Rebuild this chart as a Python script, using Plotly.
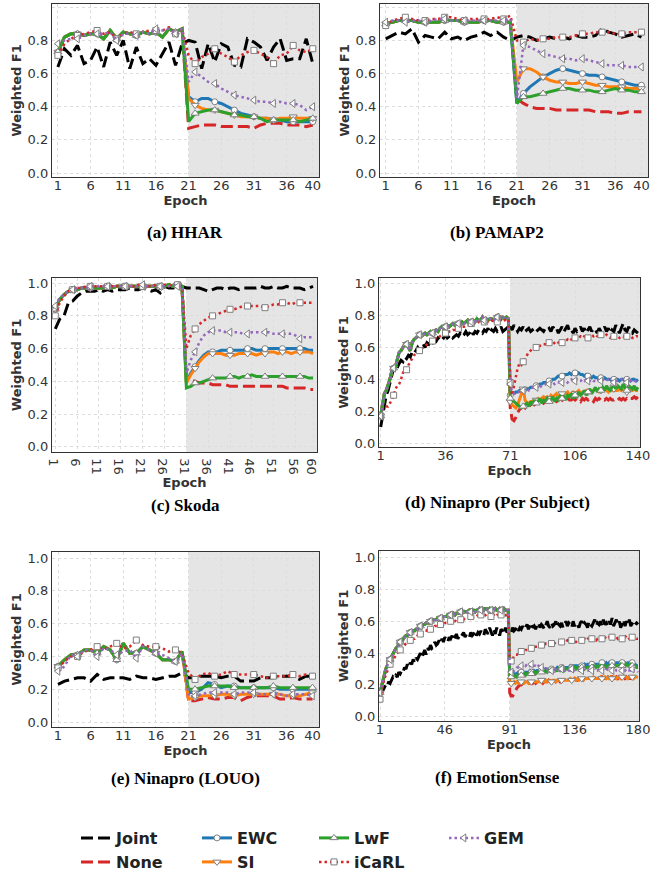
import plotly.graph_objects as go

# ------------------------------------------------------------------ data
METHODS = ["Joint", "None", "EWC", "SI", "LwF", "iCaRL", "GEM"]

# (a) HHAR -------------------------------------------------------------
a_ticks = [1, 6, 11, 16, 21, 26, 31, 36, 40]
a_task1 = [0.73, 0.82, 0.84, 0.84, 0.83, 0.84, 0.84, 0.81, 0.86, 0.81,
           0.85, 0.84, 0.83, 0.85, 0.84, 0.85, 0.82, 0.87, 0.85, 0.87]
a_joint = [0.64, 0.75, 0.71, 0.77, 0.66, 0.68, 0.76, 0.64, 0.79, 0.71,
           0.80, 0.63, 0.76, 0.66, 0.69, 0.65, 0.72, 0.79, 0.65, 0.78,
           0.80, 0.79, 0.63, 0.78, 0.67, 0.78, 0.76, 0.65, 0.64, 0.81,
           0.79, 0.76, 0.68, 0.76, 0.81, 0.68, 0.69, 0.69, 0.81, 0.66]
a_none2 = [0.27, 0.28, 0.29, 0.29, 0.29, 0.28, 0.28, 0.28, 0.28, 0.28,
           0.27, 0.29, 0.30, 0.30, 0.30, 0.29, 0.29, 0.29, 0.28, 0.29]
a_ewc2 = [0.46, 0.43, 0.45, 0.45, 0.43, 0.42, 0.40, 0.38, 0.36, 0.35,
          0.34, 0.33, 0.33, 0.32, 0.32, 0.31, 0.31, 0.31, 0.31, 0.31]
a_si2 = [0.45, 0.41, 0.39, 0.38, 0.38, 0.37, 0.36, 0.35, 0.34, 0.34,
         0.34, 0.33, 0.33, 0.32, 0.33, 0.33, 0.34, 0.33, 0.33, 0.33]
a_lwf2 = [0.31, 0.36, 0.37, 0.38, 0.38, 0.37, 0.36, 0.35, 0.35, 0.34,
          0.34, 0.33, 0.31, 0.32, 0.32, 0.32, 0.32, 0.31, 0.32, 0.33]
a_icarl = [0.71, 0.78, 0.81, 0.83, 0.84, 0.85, 0.86, 0.84, 0.85, 0.81,
           0.84, 0.85, 0.84, 0.85, 0.86, 0.86, 0.86, 0.88, 0.84, 0.87,
           0.71, 0.66, 0.70, 0.72, 0.75, 0.72, 0.70, 0.67, 0.71, 0.73,
           0.74, 0.72, 0.70, 0.66, 0.71, 0.72, 0.77, 0.74, 0.73, 0.75]
a_gem = [0.78, 0.80, 0.81, 0.81, 0.83, 0.84, 0.84, 0.84, 0.85, 0.80,
         0.84, 0.84, 0.83, 0.85, 0.84, 0.87, 0.86, 0.87, 0.84, 0.87,
         0.55, 0.61, 0.58, 0.55, 0.54, 0.51, 0.49, 0.47, 0.46, 0.45,
         0.44, 0.43, 0.43, 0.42, 0.43, 0.42, 0.42, 0.41, 0.38, 0.40]

# (b) PAMAP2 -----------------------------------------------------------
b_ticks = [1, 6, 11, 16, 21, 26, 31, 36, 40]
b_task1 = [0.90, 0.91, 0.92, 0.92, 0.92, 0.91, 0.91, 0.91, 0.91, 0.92,
           0.92, 0.92, 0.91, 0.91, 0.91, 0.92, 0.92, 0.91, 0.91, 0.91]
b_joint = [0.81, 0.83, 0.85, 0.84, 0.87, 0.79, 0.83, 0.82, 0.81, 0.85,
           0.81, 0.82, 0.80, 0.82, 0.83, 0.85, 0.83, 0.85, 0.82, 0.80,
           0.82, 0.83, 0.82, 0.80, 0.81, 0.82, 0.81, 0.82, 0.81, 0.83,
           0.82, 0.82, 0.83, 0.87, 0.85, 0.84, 0.82, 0.83, 0.84, 0.82]
b_none2 = [0.45, 0.42, 0.40, 0.39, 0.39, 0.39, 0.38, 0.38, 0.38, 0.38,
           0.38, 0.38, 0.37, 0.37, 0.37, 0.36, 0.36, 0.37, 0.37, 0.37]
b_ewc2 = [0.42, 0.48, 0.52, 0.55, 0.58, 0.60, 0.62, 0.63, 0.62, 0.61,
          0.60, 0.59, 0.59, 0.58, 0.57, 0.56, 0.55, 0.54, 0.53, 0.53]
b_si2 = [0.55, 0.63, 0.63, 0.61, 0.58, 0.56, 0.55, 0.55, 0.54, 0.54,
         0.55, 0.54, 0.53, 0.53, 0.52, 0.52, 0.52, 0.51, 0.51, 0.51]
b_lwf2 = [0.42, 0.46, 0.46, 0.47, 0.48, 0.49, 0.50, 0.51, 0.51, 0.50,
          0.50, 0.50, 0.49, 0.49, 0.50, 0.51, 0.50, 0.50, 0.49, 0.49]
b_icarl = [0.89, 0.92, 0.93, 0.94, 0.93, 0.92, 0.92, 0.93, 0.93, 0.94,
           0.94, 0.93, 0.92, 0.93, 0.93, 0.93, 0.93, 0.94, 0.93, 0.95,
           0.80, 0.79, 0.81, 0.80, 0.81, 0.81, 0.82, 0.82, 0.82, 0.83,
           0.84, 0.84, 0.85, 0.85, 0.85, 0.84, 0.84, 0.85, 0.85, 0.85]
b_gem = [0.91, 0.92, 0.92, 0.91, 0.92, 0.92, 0.91, 0.92, 0.93, 0.93,
         0.92, 0.92, 0.92, 0.92, 0.92, 0.92, 0.92, 0.92, 0.92, 0.93,
         0.45, 0.77, 0.76, 0.74, 0.72, 0.71, 0.70, 0.69, 0.69, 0.68,
         0.69, 0.68, 0.67, 0.66, 0.65, 0.65, 0.65, 0.64, 0.64, 0.64]

# (c) Skoda ------------------------------------------------------------
c_ticks = [1, 6, 11, 16, 21, 26, 31, 36, 41, 46, 51, 56, 60]
c_task1 = [0.84, 0.90, 0.93, 0.95, 0.96, 0.96, 0.97, 0.97, 0.97, 0.97,
           0.97, 0.97, 0.98, 0.97, 0.98, 0.98, 0.98, 0.98, 0.98, 0.98,
           0.98, 0.98, 0.98, 0.98, 0.98, 0.98, 0.99, 0.98, 0.99, 0.98]
c_joint = [0.72, 0.78, 0.80, 0.88, 0.89, 0.92, 0.94, 0.95, 0.95, 0.95,
           0.96, 0.95, 0.96, 0.95, 0.96, 0.96, 0.96, 0.97, 0.96, 0.96,
           0.97, 0.96, 0.95, 0.96, 0.94, 0.98, 0.97, 0.97, 0.98, 0.98,
           0.97, 0.97, 0.97, 0.97, 0.96, 0.95, 0.96, 0.97, 0.97, 0.96,
           0.97, 0.97, 0.96, 0.97, 0.97, 0.97, 0.97, 0.98, 0.97, 0.97,
           0.98, 0.97, 0.97, 0.98, 0.97, 0.97, 0.97, 0.96, 0.97, 0.98]
c_none2 = [0.42, 0.41, 0.40, 0.39, 0.39, 0.39, 0.38, 0.38, 0.38, 0.38,
           0.37, 0.37, 0.37, 0.37, 0.37, 0.37, 0.37, 0.37, 0.37, 0.37,
           0.37, 0.37, 0.37, 0.36, 0.36, 0.36, 0.36, 0.36, 0.35, 0.35]
c_ewc2 = [0.40, 0.45, 0.49, 0.53, 0.56, 0.58, 0.58, 0.58, 0.59, 0.59,
          0.59, 0.59, 0.59, 0.59, 0.60, 0.60, 0.59, 0.59, 0.60, 0.60,
          0.60, 0.60, 0.60, 0.60, 0.60, 0.60, 0.60, 0.60, 0.59, 0.59]
c_si2 = [0.39, 0.44, 0.48, 0.52, 0.55, 0.57, 0.57, 0.57, 0.57, 0.56,
         0.56, 0.56, 0.57, 0.57, 0.57, 0.57, 0.56, 0.57, 0.57, 0.58,
         0.58, 0.57, 0.58, 0.58, 0.57, 0.58, 0.58, 0.58, 0.58, 0.57]
c_lwf2 = [0.36, 0.37, 0.39, 0.39, 0.40, 0.41, 0.42, 0.42, 0.42, 0.42,
          0.43, 0.43, 0.42, 0.43, 0.43, 0.44, 0.43, 0.43, 0.43, 0.43,
          0.43, 0.43, 0.43, 0.43, 0.43, 0.43, 0.43, 0.43, 0.42, 0.42]
c_icarl = [0.80, 0.88, 0.92, 0.95, 0.96, 0.97, 0.97, 0.98, 0.98, 0.98,
           0.98, 0.98, 0.98, 0.98, 0.98, 0.99, 0.98, 0.98, 0.98, 0.99,
           0.98, 0.98, 0.98, 0.99, 0.98, 0.99, 0.99, 0.98, 0.99, 0.98,
           0.60, 0.68, 0.72, 0.75, 0.77, 0.79, 0.80, 0.81, 0.82, 0.83,
           0.84, 0.84, 0.85, 0.86, 0.86, 0.86, 0.86, 0.86, 0.85, 0.86,
           0.87, 0.87, 0.88, 0.88, 0.87, 0.88, 0.88, 0.88, 0.88, 0.88]
c_gem = [0.86, 0.91, 0.93, 0.95, 0.96, 0.97, 0.97, 0.97, 0.98, 0.98,
         0.98, 0.98, 0.98, 0.98, 0.98, 0.98, 0.98, 0.98, 0.98, 0.98,
         0.99, 0.98, 0.98, 0.98, 0.98, 0.98, 0.98, 0.99, 0.98, 0.98,
         0.45, 0.53, 0.58, 0.64, 0.68, 0.70, 0.71, 0.71, 0.71, 0.70,
         0.70, 0.70, 0.70, 0.69, 0.69, 0.70, 0.70, 0.70, 0.70, 0.70,
         0.69, 0.69, 0.69, 0.69, 0.69, 0.68, 0.66, 0.67, 0.67, 0.67]

# (d) Ninapro (Per Subject) -------------------------------------------
d_ticks = [1, 36, 71, 106, 140]
d_task1 = [0.17, 0.24, 0.31, 0.33, 0.36, 0.40, 0.45, 0.47, 0.48, 0.52,
           0.57, 0.58, 0.60, 0.62, 0.62, 0.60, 0.58, 0.63, 0.65, 0.66,
           0.67, 0.68, 0.67, 0.68, 0.69, 0.68, 0.69, 0.70, 0.69, 0.70,
           0.71, 0.70, 0.72, 0.73, 0.72, 0.73, 0.74, 0.73, 0.74, 0.75,
           0.74, 0.75, 0.75, 0.74, 0.76, 0.75, 0.76, 0.77, 0.75, 0.76,
           0.77, 0.76, 0.78, 0.77, 0.77, 0.79, 0.77, 0.78, 0.77, 0.78,
           0.78, 0.77, 0.78, 0.79, 0.78, 0.78, 0.79, 0.78, 0.79, 0.78]
d_joint = [0.10, 0.17, 0.25, 0.30, 0.33, 0.38, 0.42, 0.47, 0.45, 0.48,
           0.50, 0.52, 0.51, 0.54, 0.53, 0.55, 0.54, 0.57, 0.56, 0.58,
           0.60, 0.58, 0.61, 0.62, 0.60, 0.63, 0.62, 0.64, 0.63, 0.65,
           0.64, 0.66, 0.65, 0.67, 0.66, 0.68, 0.66, 0.67, 0.68, 0.66,
           0.67, 0.68, 0.67, 0.69, 0.67, 0.68, 0.70, 0.68, 0.69, 0.71,
           0.68, 0.70, 0.69, 0.71, 0.70, 0.69, 0.71, 0.70, 0.72, 0.69,
           0.71, 0.70, 0.72, 0.70, 0.71, 0.73, 0.70, 0.71, 0.72, 0.70,
           0.73, 0.71, 0.74, 0.72, 0.70, 0.72, 0.71, 0.73, 0.70, 0.71,
           0.72, 0.70, 0.71, 0.72, 0.70, 0.71, 0.72, 0.71, 0.70, 0.72,
           0.71, 0.72, 0.70, 0.73, 0.71, 0.72, 0.69, 0.71, 0.73, 0.70,
           0.72, 0.74, 0.70, 0.71, 0.69, 0.72, 0.70, 0.71, 0.73, 0.70,
           0.72, 0.69, 0.71, 0.73, 0.70, 0.72, 0.71, 0.69, 0.72, 0.70,
           0.71, 0.73, 0.70, 0.72, 0.69, 0.71, 0.70, 0.74, 0.71, 0.69,
           0.72, 0.75, 0.71, 0.70, 0.73, 0.70, 0.69, 0.71, 0.70, 0.69]
d_none2 = [0.22, 0.15, 0.14, 0.16, 0.19, 0.21, 0.22, 0.23, 0.22, 0.24,
           0.23, 0.24, 0.25, 0.24, 0.25, 0.26, 0.25, 0.26, 0.25, 0.26,
           0.26, 0.27, 0.26, 0.25, 0.27, 0.26, 0.27, 0.28, 0.27, 0.26,
           0.27, 0.28, 0.27, 0.27, 0.28, 0.27, 0.28, 0.27, 0.26, 0.28,
           0.27, 0.28, 0.27, 0.28, 0.27, 0.26, 0.28, 0.27, 0.28, 0.27,
           0.28, 0.27, 0.28, 0.27, 0.28, 0.27, 0.27, 0.28, 0.27, 0.28,
           0.27, 0.28, 0.27, 0.28, 0.27, 0.28, 0.28, 0.29, 0.28, 0.29]
d_ewc2 = [0.30, 0.31, 0.31, 0.32, 0.32, 0.33, 0.32, 0.33, 0.33, 0.34,
          0.34, 0.35, 0.35, 0.35, 0.36, 0.36, 0.37, 0.37, 0.38, 0.38,
          0.38, 0.39, 0.39, 0.40, 0.40, 0.41, 0.42, 0.42, 0.42, 0.43,
          0.43, 0.43, 0.44, 0.43, 0.44, 0.44, 0.43, 0.44, 0.43, 0.43,
          0.42, 0.43, 0.42, 0.42, 0.41, 0.42, 0.41, 0.41, 0.40, 0.41,
          0.40, 0.41, 0.40, 0.40, 0.40, 0.39, 0.40, 0.40, 0.40, 0.39,
          0.40, 0.40, 0.39, 0.40, 0.40, 0.39, 0.40, 0.40, 0.39, 0.40]
d_si2 = [0.26, 0.24, 0.23, 0.22, 0.24, 0.27, 0.30, 0.34, 0.27, 0.25,
         0.25, 0.26, 0.26, 0.27, 0.27, 0.28, 0.27, 0.28, 0.29, 0.28,
         0.29, 0.28, 0.30, 0.29, 0.30, 0.31, 0.29, 0.30, 0.31, 0.30,
         0.31, 0.32, 0.30, 0.31, 0.32, 0.31, 0.32, 0.33, 0.31, 0.32,
         0.32, 0.33, 0.32, 0.33, 0.32, 0.33, 0.34, 0.33, 0.32, 0.33,
         0.33, 0.34, 0.33, 0.32, 0.34, 0.33, 0.34, 0.33, 0.33, 0.34,
         0.33, 0.34, 0.33, 0.32, 0.34, 0.33, 0.33, 0.34, 0.33, 0.33]
d_lwf2 = [0.28, 0.27, 0.26, 0.25, 0.24, 0.23, 0.22, 0.23, 0.24, 0.25,
          0.23, 0.26, 0.24, 0.27, 0.25, 0.26, 0.28, 0.25, 0.27, 0.26,
          0.28, 0.26, 0.27, 0.29, 0.26, 0.28, 0.27, 0.30, 0.28, 0.29,
          0.27, 0.30, 0.29, 0.31, 0.28, 0.30, 0.29, 0.32, 0.30, 0.31,
          0.33, 0.30, 0.32, 0.34, 0.31, 0.33, 0.35, 0.32, 0.34, 0.33,
          0.35, 0.33, 0.36, 0.34, 0.33, 0.35, 0.37, 0.34, 0.36, 0.35,
          0.34, 0.37, 0.35, 0.33, 0.36, 0.35, 0.34, 0.36, 0.33, 0.35]
d_icarl = [0.17, 0.21, 0.22, 0.23, 0.23, 0.25, 0.27, 0.30, 0.34, 0.36,
           0.37, 0.40, 0.44, 0.46, 0.46, 0.49, 0.51, 0.53, 0.55, 0.56,
           0.56, 0.58, 0.59, 0.60, 0.61, 0.62, 0.63, 0.64, 0.64, 0.65,
           0.66, 0.66, 0.67, 0.68, 0.68, 0.69, 0.69, 0.70, 0.70, 0.71,
           0.71, 0.72, 0.72, 0.73, 0.73, 0.73, 0.74, 0.74, 0.74, 0.75,
           0.75, 0.75, 0.75, 0.76, 0.75, 0.76, 0.76, 0.77, 0.76, 0.76,
           0.77, 0.76, 0.77, 0.76, 0.77, 0.77, 0.76, 0.77, 0.78, 0.77,
           0.38, 0.30, 0.36, 0.42, 0.47, 0.50, 0.49, 0.51, 0.53, 0.55,
           0.57, 0.58, 0.59, 0.59, 0.60, 0.60, 0.61, 0.61, 0.62, 0.62,
           0.62, 0.63, 0.63, 0.62, 0.63, 0.64, 0.63, 0.64, 0.63, 0.64,
           0.64, 0.65, 0.64, 0.65, 0.65, 0.66, 0.65, 0.66, 0.67, 0.66,
           0.67, 0.67, 0.66, 0.67, 0.68, 0.67, 0.68, 0.67, 0.67, 0.68,
           0.67, 0.67, 0.68, 0.67, 0.66, 0.67, 0.67, 0.66, 0.67, 0.66,
           0.67, 0.67, 0.66, 0.67, 0.66, 0.67, 0.66, 0.66, 0.67, 0.67]
d_gem2 = [0.37, 0.32, 0.31, 0.31, 0.32, 0.32, 0.33, 0.33, 0.34, 0.34,
          0.33, 0.34, 0.35, 0.34, 0.35, 0.36, 0.35, 0.36, 0.36, 0.37,
          0.36, 0.37, 0.37, 0.38, 0.37, 0.38, 0.38, 0.39, 0.38, 0.39,
          0.39, 0.38, 0.39, 0.40, 0.39, 0.39, 0.40, 0.39, 0.39, 0.40,
          0.39, 0.40, 0.39, 0.39, 0.40, 0.39, 0.39, 0.40, 0.39, 0.39,
          0.40, 0.39, 0.39, 0.40, 0.39, 0.39, 0.38, 0.39, 0.39, 0.39,
          0.40, 0.39, 0.39, 0.38, 0.39, 0.39, 0.40, 0.39, 0.39, 0.39]

# (e) Ninapro (LOUO) --------------------------------------------------
e_ticks = [1, 6, 11, 16, 21, 26, 31, 36, 40]
e_task1 = [0.34, 0.38, 0.41, 0.41, 0.44, 0.44, 0.42, 0.46, 0.44, 0.38,
           0.48, 0.42, 0.42, 0.46, 0.44, 0.42, 0.38, 0.38, 0.37, 0.43]
e_joint = [0.23, 0.25, 0.26, 0.27, 0.27, 0.25, 0.29, 0.26, 0.27, 0.27,
           0.27, 0.26, 0.28, 0.27, 0.27, 0.26, 0.27, 0.28, 0.28, 0.30,
           0.27, 0.27, 0.28, 0.28, 0.28, 0.27, 0.28, 0.28, 0.25, 0.25,
           0.25, 0.27, 0.27, 0.27, 0.28, 0.28, 0.28, 0.26, 0.28, 0.28]
e_none2 = [0.13, 0.13, 0.14, 0.15, 0.14, 0.14, 0.15, 0.15, 0.13, 0.15,
           0.16, 0.16, 0.16, 0.16, 0.14, 0.14, 0.15, 0.14, 0.14, 0.14]
e_ewc2 = [0.18, 0.18, 0.20, 0.24, 0.23, 0.21, 0.22, 0.22, 0.21, 0.21,
          0.21, 0.21, 0.21, 0.21, 0.20, 0.20, 0.20, 0.20, 0.20, 0.20]
e_si2 = [0.14, 0.15, 0.16, 0.16, 0.16, 0.17, 0.17, 0.16, 0.17, 0.17,
         0.17, 0.17, 0.17, 0.17, 0.17, 0.16, 0.16, 0.16, 0.17, 0.18]
e_lwf2 = [0.20, 0.20, 0.21, 0.22, 0.22, 0.22, 0.22, 0.21, 0.21, 0.21,
          0.21, 0.21, 0.21, 0.22, 0.21, 0.21, 0.21, 0.21, 0.21, 0.21]
e_icarl = [0.33, 0.37, 0.40, 0.40, 0.43, 0.44, 0.46, 0.44, 0.46, 0.48,
           0.45, 0.46, 0.50, 0.47, 0.46, 0.46, 0.45, 0.43, 0.44, 0.42,
           0.30, 0.26, 0.29, 0.30, 0.28, 0.29, 0.31, 0.29, 0.29, 0.29,
           0.29, 0.28, 0.27, 0.28, 0.28, 0.28, 0.29, 0.28, 0.29, 0.28]
e_gem = [0.31, 0.34, 0.41, 0.40, 0.44, 0.44, 0.40, 0.45, 0.44, 0.41,
         0.43, 0.44, 0.39, 0.46, 0.44, 0.42, 0.41, 0.39, 0.37, 0.42,
         0.17, 0.16, 0.17, 0.18, 0.18, 0.18, 0.18, 0.17, 0.18, 0.18,
         0.18, 0.17, 0.17, 0.17, 0.17, 0.16, 0.17, 0.17, 0.17, 0.16]

# (f) EmotionSense ----------------------------------------------------
f_ticks = [1, 46, 91, 136, 180]
f_task1 = [0.15, 0.19, 0.24, 0.27, 0.30, 0.32, 0.35, 0.36, 0.38, 0.40,
           0.41, 0.43, 0.44, 0.46, 0.47, 0.48, 0.49, 0.50, 0.51, 0.51,
           0.52, 0.53, 0.53, 0.54, 0.54, 0.55, 0.55, 0.56, 0.57, 0.57,
           0.58, 0.58, 0.59, 0.59, 0.59, 0.60, 0.60, 0.61, 0.61, 0.61,
           0.62, 0.62, 0.62, 0.63, 0.63, 0.63, 0.63, 0.64, 0.64, 0.64,
           0.64, 0.65, 0.64, 0.65, 0.65, 0.65, 0.66, 0.65, 0.66, 0.66,
           0.66, 0.66, 0.67, 0.66, 0.67, 0.67, 0.66, 0.67, 0.67, 0.68,
           0.67, 0.68, 0.67, 0.68, 0.68, 0.67, 0.68, 0.67, 0.68, 0.67,
           0.68, 0.67, 0.67, 0.68, 0.67, 0.67, 0.68, 0.67, 0.67, 0.67]
f_joint = [0.13, 0.15, 0.17, 0.18, 0.20, 0.19, 0.22, 0.21, 0.23, 0.25,
           0.24, 0.26, 0.25, 0.28, 0.27, 0.29, 0.28, 0.31, 0.30, 0.33,
           0.31, 0.34, 0.33, 0.36, 0.34, 0.37, 0.36, 0.38, 0.40, 0.37,
           0.40, 0.42, 0.39, 0.43, 0.42, 0.45, 0.43, 0.44, 0.47, 0.45,
           0.46, 0.48, 0.46, 0.49, 0.47, 0.50, 0.48, 0.47, 0.50, 0.49,
           0.51, 0.48, 0.50, 0.52, 0.49, 0.51, 0.50, 0.52, 0.53, 0.50,
           0.52, 0.51, 0.50, 0.53, 0.51, 0.52, 0.54, 0.51, 0.53, 0.52,
           0.54, 0.52, 0.51, 0.55, 0.53, 0.52, 0.56, 0.53, 0.51, 0.55,
           0.52, 0.56, 0.53, 0.51, 0.55, 0.54, 0.52, 0.56, 0.53, 0.54,
           0.55, 0.53, 0.56, 0.54, 0.55, 0.57, 0.54, 0.56, 0.55, 0.57,
           0.55, 0.56, 0.58, 0.55, 0.57, 0.59, 0.56, 0.57, 0.55, 0.58,
           0.59, 0.56, 0.58, 0.57, 0.55, 0.58, 0.60, 0.57, 0.56, 0.59,
           0.57, 0.58, 0.60, 0.56, 0.58, 0.57, 0.59, 0.56, 0.58, 0.60,
           0.57, 0.59, 0.58, 0.56, 0.60, 0.57, 0.59, 0.58, 0.56, 0.59,
           0.60, 0.57, 0.59, 0.58, 0.56, 0.60, 0.58, 0.57, 0.59, 0.61,
           0.57, 0.59, 0.58, 0.60, 0.57, 0.61, 0.58, 0.59, 0.57, 0.60,
           0.58, 0.62, 0.57, 0.59, 0.61, 0.58, 0.60, 0.56, 0.59, 0.61,
           0.57, 0.60, 0.58, 0.61, 0.57, 0.59, 0.60, 0.58, 0.59, 0.58]
f_none2 = [0.15, 0.13, 0.13, 0.15, 0.17, 0.18, 0.19, 0.20, 0.20, 0.21,
           0.21, 0.20, 0.21, 0.21, 0.21, 0.22, 0.21, 0.22, 0.21, 0.22,
           0.22, 0.22, 0.22, 0.21, 0.22, 0.22, 0.22, 0.23, 0.22, 0.22,
           0.22, 0.23, 0.22, 0.23, 0.23, 0.22, 0.23, 0.23, 0.23, 0.23,
           0.23, 0.23, 0.23, 0.23, 0.23, 0.24, 0.23, 0.23, 0.24, 0.23,
           0.24, 0.23, 0.24, 0.24, 0.24, 0.24, 0.24, 0.24, 0.24, 0.24,
           0.24, 0.24, 0.24, 0.24, 0.25, 0.24, 0.24, 0.24, 0.25, 0.24,
           0.24, 0.25, 0.24, 0.24, 0.25, 0.24, 0.25, 0.24, 0.24, 0.25,
           0.24, 0.25, 0.24, 0.24, 0.24, 0.25, 0.24, 0.24, 0.24, 0.24]
f_ewc2 = [0.26, 0.26, 0.27, 0.27, 0.27, 0.27, 0.28, 0.27, 0.28, 0.28,
          0.28, 0.28, 0.28, 0.28, 0.29, 0.28, 0.29, 0.29, 0.28, 0.29,
          0.29, 0.29, 0.29, 0.29, 0.29, 0.30, 0.29, 0.30, 0.30, 0.30,
          0.30, 0.30, 0.30, 0.31, 0.30, 0.31, 0.31, 0.31, 0.31, 0.31,
          0.31, 0.31, 0.32, 0.31, 0.32, 0.32, 0.32, 0.32, 0.32, 0.32,
          0.32, 0.32, 0.33, 0.32, 0.33, 0.33, 0.32, 0.33, 0.33, 0.33,
          0.33, 0.33, 0.33, 0.33, 0.34, 0.33, 0.33, 0.34, 0.33, 0.34,
          0.33, 0.34, 0.34, 0.33, 0.34, 0.34, 0.34, 0.33, 0.34, 0.34,
          0.34, 0.33, 0.34, 0.34, 0.33, 0.34, 0.33, 0.33, 0.32, 0.32]
f_si2 = [0.21, 0.21, 0.21, 0.22, 0.21, 0.22, 0.21, 0.21, 0.22, 0.21,
         0.21, 0.22, 0.22, 0.21, 0.22, 0.22, 0.22, 0.22, 0.22, 0.22,
         0.22, 0.22, 0.23, 0.22, 0.22, 0.23, 0.22, 0.23, 0.23, 0.22,
         0.23, 0.23, 0.22, 0.23, 0.23, 0.23, 0.23, 0.23, 0.23, 0.23,
         0.23, 0.23, 0.24, 0.23, 0.23, 0.24, 0.23, 0.24, 0.23, 0.24,
         0.24, 0.23, 0.24, 0.24, 0.24, 0.24, 0.24, 0.24, 0.25, 0.24,
         0.24, 0.24, 0.24, 0.25, 0.24, 0.24, 0.25, 0.24, 0.25, 0.24,
         0.25, 0.24, 0.25, 0.25, 0.24, 0.25, 0.25, 0.24, 0.25, 0.25,
         0.25, 0.25, 0.24, 0.25, 0.25, 0.25, 0.24, 0.25, 0.25, 0.25]
f_lwf2 = [0.24, 0.25, 0.25, 0.25, 0.26, 0.25, 0.26, 0.26, 0.26, 0.26,
          0.27, 0.26, 0.27, 0.27, 0.27, 0.27, 0.27, 0.28, 0.27, 0.28,
          0.28, 0.28, 0.28, 0.28, 0.28, 0.29, 0.28, 0.29, 0.29, 0.29,
          0.29, 0.29, 0.29, 0.29, 0.30, 0.29, 0.30, 0.30, 0.29, 0.30,
          0.30, 0.30, 0.30, 0.30, 0.30, 0.31, 0.30, 0.31, 0.30, 0.31,
          0.31, 0.31, 0.30, 0.31, 0.31, 0.31, 0.31, 0.31, 0.32, 0.31,
          0.31, 0.32, 0.31, 0.32, 0.31, 0.32, 0.32, 0.31, 0.32, 0.32,
          0.32, 0.32, 0.31, 0.32, 0.32, 0.32, 0.32, 0.33, 0.32, 0.32,
          0.32, 0.33, 0.32, 0.32, 0.33, 0.32, 0.32, 0.32, 0.31, 0.31]
f_icarl = [0.11, 0.16, 0.20, 0.24, 0.26, 0.29, 0.31, 0.33, 0.34, 0.36,
           0.37, 0.39, 0.40, 0.41, 0.42, 0.43, 0.44, 0.45, 0.46, 0.47,
           0.47, 0.48, 0.48, 0.49, 0.49, 0.50, 0.51, 0.51, 0.52, 0.53,
           0.53, 0.54, 0.54, 0.55, 0.55, 0.55, 0.56, 0.56, 0.57, 0.57,
           0.57, 0.58, 0.58, 0.58, 0.58, 0.59, 0.59, 0.59, 0.59, 0.60,
           0.60, 0.60, 0.60, 0.61, 0.61, 0.61, 0.61, 0.62, 0.61, 0.62,
           0.62, 0.62, 0.62, 0.63, 0.62, 0.63, 0.63, 0.63, 0.64, 0.63,
           0.64, 0.63, 0.64, 0.64, 0.63, 0.64, 0.64, 0.63, 0.64, 0.64,
           0.63, 0.64, 0.64, 0.63, 0.64, 0.63, 0.64, 0.64, 0.63, 0.64,
           0.33, 0.35, 0.37, 0.38, 0.39, 0.39, 0.40, 0.40, 0.41, 0.41,
           0.41, 0.42, 0.42, 0.42, 0.43, 0.43, 0.43, 0.44, 0.44, 0.44,
           0.44, 0.45, 0.45, 0.45, 0.45, 0.46, 0.46, 0.46, 0.46, 0.46,
           0.47, 0.46, 0.47, 0.47, 0.47, 0.46, 0.47, 0.47, 0.48, 0.47,
           0.48, 0.47, 0.48, 0.48, 0.48, 0.48, 0.47, 0.48, 0.48, 0.49,
           0.48, 0.48, 0.49, 0.48, 0.49, 0.49, 0.48, 0.49, 0.49, 0.49,
           0.48, 0.49, 0.49, 0.50, 0.49, 0.49, 0.50, 0.49, 0.49, 0.50,
           0.49, 0.50, 0.49, 0.50, 0.50, 0.49, 0.50, 0.50, 0.49, 0.50,
           0.50, 0.51, 0.50, 0.49, 0.50, 0.50, 0.49, 0.50, 0.49, 0.49]
f_gem2 = [0.30, 0.28, 0.28, 0.29, 0.30, 0.31, 0.31, 0.32, 0.32, 0.32,
          0.33, 0.32, 0.33, 0.33, 0.32, 0.33, 0.32, 0.32, 0.32, 0.31,
          0.32, 0.31, 0.31, 0.31, 0.30, 0.31, 0.30, 0.30, 0.30, 0.29,
          0.30, 0.29, 0.30, 0.29, 0.29, 0.29, 0.30, 0.29, 0.29, 0.29,
          0.29, 0.29, 0.29, 0.30, 0.29, 0.29, 0.29, 0.29, 0.29, 0.29,
          0.29, 0.30, 0.29, 0.29, 0.29, 0.29, 0.30, 0.29, 0.29, 0.29,
          0.29, 0.29, 0.30, 0.29, 0.29, 0.29, 0.29, 0.29, 0.30, 0.29,
          0.29, 0.29, 0.29, 0.30, 0.29, 0.29, 0.29, 0.29, 0.29, 0.30,
          0.29, 0.30, 0.29, 0.29, 0.29, 0.30, 0.29, 0.29, 0.29, 0.28]

# ------------------------------------------------------------------ panels
panels = [
    dict(cap="(a) HHAR", switch=21, ticks=a_ticks, every=3,
         series={"Joint": a_joint, "None": a_task1 + a_none2, "EWC": a_task1 + a_ewc2,
                 "SI": a_task1 + a_si2, "LwF": a_task1 + a_lwf2, "iCaRL": a_icarl, "GEM": a_gem},
         box=(52, 4, 319, 177), xr=(0.1, 40.95), yr=(-0.024, 1.02), capxy=(185, 233)),
    dict(cap="(b) PAMAP2", switch=21, ticks=b_ticks, every=3,
         series={"Joint": b_joint, "None": b_task1 + b_none2, "EWC": b_task1 + b_ewc2,
                 "SI": b_task1 + b_si2, "LwF": b_task1 + b_lwf2, "iCaRL": b_icarl, "GEM": b_gem},
         box=(380, 4, 648, 177), xr=(0.13, 41.0), yr=(-0.024, 1.02), capxy=(497, 233)),
    dict(cap="(c) Skoda", switch=31, ticks=c_ticks, every=4,
         series={"Joint": c_joint, "None": c_task1 + c_none2, "EWC": c_task1 + c_ewc2,
                 "SI": c_task1 + c_si2, "LwF": c_task1 + c_lwf2, "iCaRL": c_icarl, "GEM": c_gem},
         box=(52, 278, 317, 452), xr=(0.25, 60.9), yr=(-0.031, 1.031), capxy=(185, 505)),
    dict(cap="(d) Ninapro (Per Subject)", switch=71, ticks=d_ticks, every=7,
         series={"Joint": d_joint, "None": d_task1 + d_none2, "EWC": d_task1 + d_ewc2,
                 "SI": d_task1 + d_si2, "LwF": d_task1 + d_lwf2, "iCaRL": d_icarl,
                 "GEM": d_task1 + d_gem2},
         box=(379, 278, 640, 447), xr=(0.1, 141.1), yr=(-0.025, 1.036), capxy=(497, 502)),
    dict(cap="(e) Ninapro (LOUO)", switch=21, ticks=e_ticks, every=3,
         series={"Joint": e_joint, "None": e_task1 + e_none2, "EWC": e_task1 + e_ewc2,
                 "SI": e_task1 + e_si2, "LwF": e_task1 + e_lwf2, "iCaRL": e_icarl, "GEM": e_gem},
         box=(52, 552, 319, 727), xr=(0.08, 41.0), yr=(-0.03, 1.037), capxy=(185, 778)),
    dict(cap="(f) EmotionSense", switch=91, ticks=f_ticks, every=7,
         series={"Joint": f_joint, "None": f_task1 + f_none2, "EWC": f_task1 + f_ewc2,
                 "SI": f_task1 + f_si2, "LwF": f_task1 + f_lwf2, "iCaRL": f_icarl,
                 "GEM": f_task1 + f_gem2},
         box=(379, 551, 639, 721), xr=(0.3, 180.7), yr=(-0.027, 1.042), capxy=(497, 777)),
]

# ------------------------------------------------------------------ styles
STY = {
    "Joint": dict(color="black", dash="12px,5px", width=3, symbol=None, legend="legend", lw=76),
    "None": dict(color="#d62728", dash="12px,5px", width=3, symbol=None, legend="legend2", lw=76),
    "EWC": dict(color="#1f77b4", dash="solid", width=3, symbol="circle", size=6, legend="legend", lw=72),
    "SI": dict(color="#ff7f0e", dash="solid", width=3, symbol="triangle-down", size=7, legend="legend2", lw=72),
    "LwF": dict(color="#2ca02c", dash="solid", width=3, symbol="triangle-up", size=7, legend="legend", lw=85),
    "iCaRL": dict(color="#d62728", dash="2.5px,3px", width=2.5, symbol="square", size=6, legend="legend2", lw=85),
    "GEM": dict(color="#9467bd", dash="2.5px,3px", width=2.5, symbol="triangle-left", size=7, legend="legend", lw=85),
}

W, H = 662, 877
TICKFONT = dict(family="DejaVu Sans", size=13, color="#333333")
TITLEFONT = dict(family="DejaVu Sans", size=13, color="#333333", weight="bold")
GRID = "#dddddd"

fig = go.Figure()
layout = dict(width=W, height=H, margin=dict(l=0, r=0, t=0, b=0, autoexpand=False),
              paper_bgcolor="white", plot_bgcolor="white", shapes=[], annotations=[])

for k, p in enumerate(panels, start=1):
    xa = "x" if k == 1 else f"x{k}"
    ya = "y" if k == 1 else f"y{k}"
    l, t, r, b = p["box"]
    n = len(p["series"]["Joint"])
    epochs = list(range(1, n + 1))
    for m in METHODS:
        s = STY[m]
        vals = p["series"][m]
        tr = dict(x=epochs, y=vals, xaxis=xa, yaxis=ya, name=m,
                  line=dict(color=s["color"], width=s["width"], dash=s["dash"]),
                  showlegend=(k == 1), legend=s["legend"], legendwidth=s["lw"],
                  hoverinfo="skip")
        if s["symbol"]:
            tr.update(mode="lines+markers",
                      marker=dict(symbol=s["symbol"], size=s["size"], color="white",
                                  line=dict(color="#7f7f7f", width=1)),
                      selectedpoints=list(range(0, n, p["every"])),
                      selected=dict(marker=dict(opacity=1)),
                      unselected=dict(marker=dict(opacity=0)))
        else:
            tr.update(mode="lines")
        fig.add_trace(go.Scatter(**tr))

    axkey_x = "xaxis" if k == 1 else f"xaxis{k}"
    axkey_y = "yaxis" if k == 1 else f"yaxis{k}"
    layout[axkey_x] = dict(domain=[l / W, r / W], anchor=ya, range=list(p["xr"]), automargin=False,
                           tickmode="array", tickvals=p["ticks"], ticktext=[str(v) for v in p["ticks"]],
                           showgrid=True, gridcolor=GRID, griddash="dot", gridwidth=1,
                           showline=True, linecolor="#333333", linewidth=1.3, mirror=True,
                           ticks="", tickfont=TICKFONT, zeroline=False, ticklabelstandoff=-4,
                           title=dict(text="Epoch", font=TITLEFONT, standoff=0))
    layout[axkey_y] = dict(domain=[1 - b / H, 1 - t / H], anchor=xa, range=list(p["yr"]), automargin=False,
                           tickmode="array", tickvals=[0, 0.2, 0.4, 0.6, 0.8, 1.0],
                           ticktext=["0.0", "0.2", "0.4", "0.6", "0.8", "1.0"],
                           showgrid=True, gridcolor=GRID, griddash="dot", gridwidth=1,
                           showline=True, linecolor="#333333", linewidth=1.3, mirror=True,
                           ticks="", tickfont=TICKFONT, zeroline=False,
                           title=dict(text="Weighted F1", font=TITLEFONT, standoff=3))
    layout["shapes"].append(dict(type="rect", xref=xa, yref=f"{ya} domain",
                                 x0=p["switch"], x1=p["xr"][1], y0=0, y1=1,
                                 fillcolor="#e5e5e5", line=dict(width=0), layer="below"))
    cx, cy = p["capxy"]
    layout["annotations"].append(dict(text=p["cap"], xref="paper", yref="paper",
                                      x=cx / W, y=1 - cy / H, xanchor="center", yanchor="middle",
                                      showarrow=False,
                                      font=dict(family="Liberation Serif", size=17, color="black",
                                                weight="bold")))

LEGFONT = dict(family="DejaVu Sans", size=16, color="#222222", weight="bold")
layout["legend"] = dict(orientation="h", x=76 / W, y=1 - 838 / H, xanchor="left", yanchor="middle",
                        font=LEGFONT, bgcolor="rgba(0,0,0,0)", itemwidth=30)
layout["legend2"] = dict(orientation="h", x=76 / W, y=1 - 862 / H, xanchor="left", yanchor="middle",
                         font=LEGFONT, bgcolor="rgba(0,0,0,0)", itemwidth=30)
fig.update_layout(**layout)
fig.write_html("out.html", config={"displayModeBar": False},
               post_script="document.body.style.margin='0';document.body.style.padding='0';")
